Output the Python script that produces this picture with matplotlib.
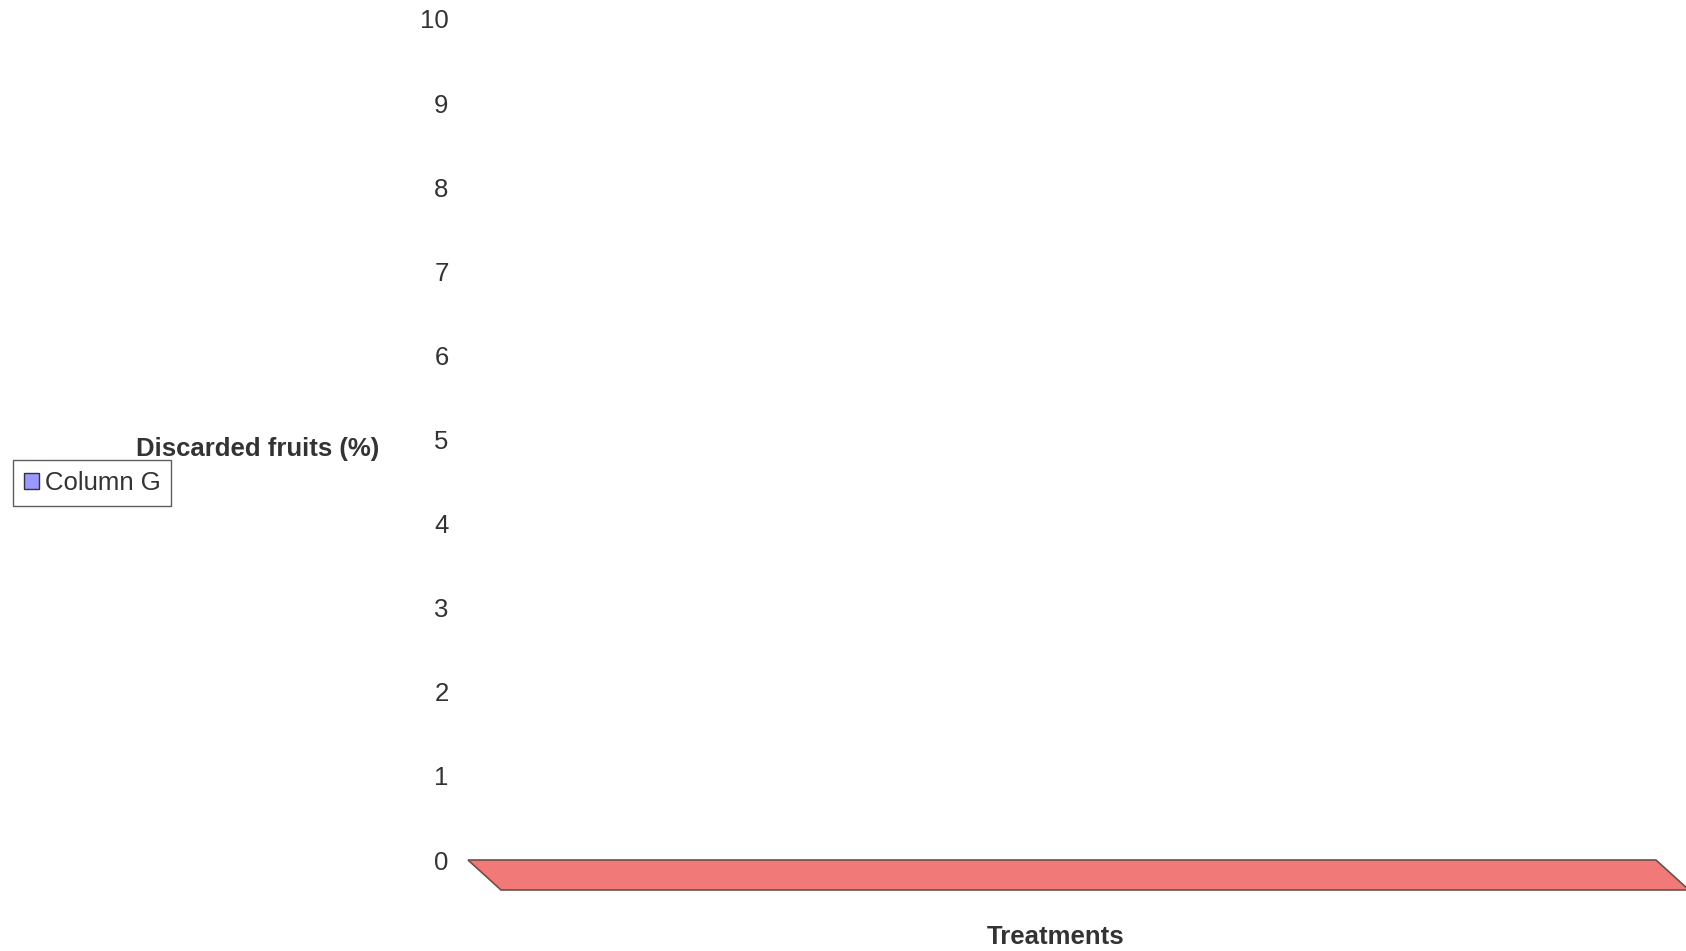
import numpy as np
import matplotlib.pyplot as plt
from matplotlib.patches import Polygon, Patch
from matplotlib import transforms

plt.rcParams['font.family'] = ['Liberation Sans', 'DejaVu Sans']

# données : la série "Column G" ne contient aucune valeur visible
categories = []
valeurs_G = []
yticks = list(range(0, 11))
serie = 'Column G'

W, H = 1686, 951
fig = plt.figure(figsize=(W / 100, H / 100), dpi=100)
ax = fig.add_axes([468 / W, 1 - 860 / H, (1656 - 468) / W, (860 - 19) / H])

ax.bar(np.arange(len(categories)), valeurs_G, color='#9999ff', edgecolor='#333333')

ax.set_ylim(0, 10)
ax.set_xlim(0, 1)
ax.set_yticks(yticks)
ax.set_yticklabels([str(t) for t in yticks], fontsize=18.5, color='#333333')
ax.tick_params(axis='y', length=0, pad=14)
ax.set_xticks([])
for s in ax.spines.values():
    s.set_visible(False)

# plancher 3D (décor) : bord arrière à y=0, profondeur de 30 px vers le bas-droite
dec = transforms.ScaledTranslation(33 / 100, -30 / 100, fig.dpi_scale_trans)
pts = [(0, 0), (1, 0)]
back = ax.transData.transform(pts)
front = (ax.transData + dec).transform(pts)
poly = Polygon([back[0], back[1], front[1], front[0]], closed=True,
               transform=None, facecolor='#f17a78', edgecolor='#6b4f4f',
               lw=1.2, clip_on=False)
fig.add_artist(poly)

fig.text(258 / W, 1 - 449 / H, 'Discarded fruits (%)', ha='center', va='center',
         fontsize=18.5, fontweight='bold', color='#333333')
fig.text(1056 / W, 1 - 937 / H, 'Treatments', ha='center', va='center',
         fontsize=18.5, fontweight='bold', color='#333333')

leg = fig.legend(handles=[Patch(facecolor='#9999ff', edgecolor='#333333', label=serie)],
                 loc='upper left', bbox_to_anchor=(13 / W, 1 - 460 / H),
                 fontsize=18.5, fancybox=False, frameon=True, borderpad=0.42,
                 handlelength=0.6, handleheight=0.6, handletextpad=0.22,
                 borderaxespad=0)
leg._legend_box.sep = 0
leg.get_frame().set_edgecolor('#333333')
leg.get_frame().set_linewidth(1.0)
for t in leg.get_texts():
    t.set_color('#333333')

plt.savefig('out.png', dpi=100)
